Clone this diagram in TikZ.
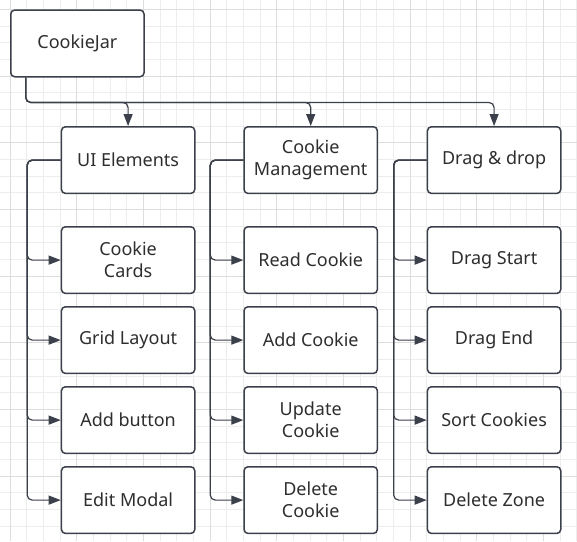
\documentclass[tikz,border=0pt]{standalone}
\usepackage{fontspec}
\setmainfont{Noto Sans}
\usetikzlibrary{arrows.meta}
\definecolor{linec}{HTML}{3B404A}
\definecolor{textc}{HTML}{2E2E2E}
\definecolor{gridminor}{HTML}{EDEDED}
\definecolor{gridmajor}{HTML}{DDDDDD}
\begin{document}
\begin{tikzpicture}[x=1pt,y=-1pt,
  box/.style={draw=linec, line width=1.5pt, fill=white, rounded corners=4pt,
    minimum width=133.3pt, minimum height=66.7pt, anchor=north west,
    align=center, font=\fontsize{18}{22}\selectfont, text=textc, inner sep=0pt},
  conn/.style={draw=linec, line width=1.2pt, rounded corners=5pt,
    -{Triangle[length=12pt,width=9pt]}},
  gmin/.style={draw=gridminor, line width=0.8pt},
  gmaj/.style={draw=gridmajor, line width=0.9pt}
]
\useasboundingbox[fill=white] (0,0) rectangle (577,541);
% grid
\foreach \i in {0,...,34} {
  \pgfmathsetmacro\xx{10+16.6667*\i}
  \draw[gmin] (\xx,0) -- (\xx,541);
}
\foreach \i in {0,...,31} {
  \pgfmathsetmacro\yy{9.333+16.6667*\i}
  \draw[gmin] (0,\yy) -- (577,\yy);
}
\foreach \i in {0,...,8} {
  \pgfmathsetmacro\xx{10+66.6667*\i}
  \draw[gmaj] (\xx,0) -- (\xx,541);
}
\foreach \i in {0,...,7} {
  \pgfmathsetmacro\yy{9.333+66.6667*\i}
  \draw[gmaj] (0,\yy) -- (577,\yy);
}
% nodes
\node[box] (cj) at (10,9.3) {CookieJar};
\node[box] (ui) at (60.7,126) {UI Elements};
\node[box] (cm) at (243.3,126) {Cookie\\Management};
\node[box] (dd) at (426.7,126) {Drag \& drop};

\node[box] (cc) at (60.7,226) {Cookie\\Cards};
\node[box] (gl) at (60.7,306) {Grid Layout};
\node[box] (ab) at (60.7,386) {Add button};
\node[box] (em) at (60.7,466) {Edit Modal};

\node[box] (rc) at (243.3,226) {Read Cookie};
\node[box] (ac) at (243.3,306) {Add Cookie};
\node[box] (uc) at (243.3,386) {Update\\Cookie};
\node[box] (dc) at (243.3,466) {Delete\\Cookie};

\node[box] (ds) at (426.7,226) {Drag Start};
\node[box] (de) at (426.7,306) {Drag End};
\node[box] (sc) at (426.7,386) {Sort Cookies};
\node[box] (dz) at (426.7,466) {Delete Zone};

% connectors from root
\foreach \t in {ui,cm,dd}
  \draw[conn] ([xshift=15.7pt]cj.south west) -- ++(0,25) -| (\t.north);
% children
\foreach \t in {cc,gl,ab,em}
  \draw[conn] (ui.west) -- ++(-33.5,0) |- (\t.west);
\foreach \t in {rc,ac,uc,dc}
  \draw[conn] (cm.west) -- ++(-33,0) |- (\t.west);
\foreach \t in {ds,de,sc,dz}
  \draw[conn] (dd.west) -- ++(-33,0) |- (\t.west);
\end{tikzpicture}
\end{document}
